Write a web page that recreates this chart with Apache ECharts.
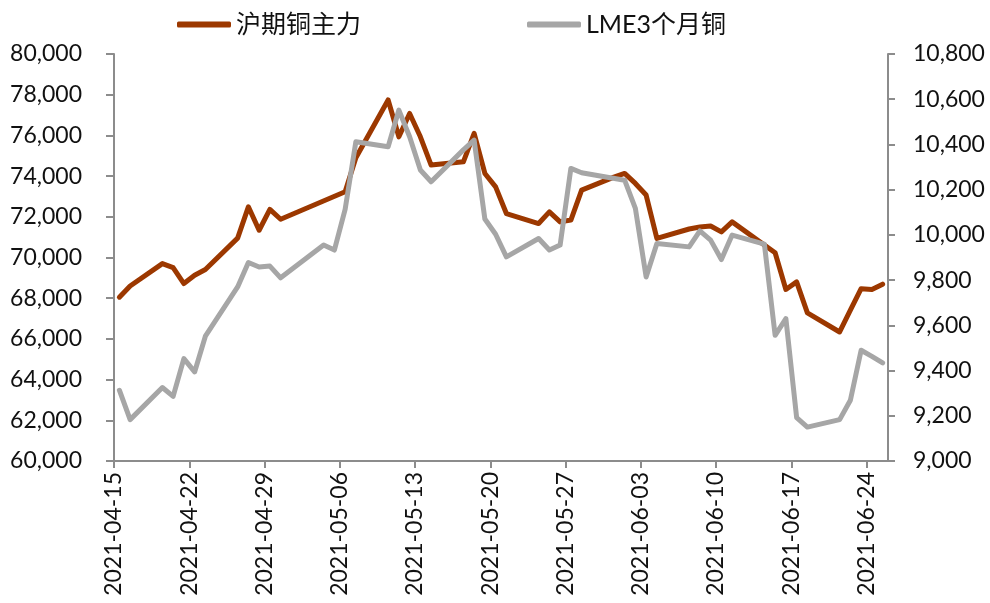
<!DOCTYPE html>
<html>
    <head>
        <meta charset="utf-8">
        <script src="https://cdn.jsdelivr.net/npm/echarts@6/dist/echarts.min.js"></script>
        <style>
            html, body { margin: 0; padding: 0; background: #fff; }
            #main { width: 990px; height: 603px; }
        </style>
    </head>
    <body>
        <div id="main"></div>
        <script>
            // SHFE copper main contract (left axis)
            var shfeDates = [
                '2021-04-15', '2021-04-16', '2021-04-19', '2021-04-20', '2021-04-21', '2021-04-22', '2021-04-23',
                '2021-04-26', '2021-04-27', '2021-04-28', '2021-04-29', '2021-04-30',
                '2021-05-06', '2021-05-07', '2021-05-10', '2021-05-11', '2021-05-12', '2021-05-13', '2021-05-14',
                '2021-05-17', '2021-05-18', '2021-05-19', '2021-05-20', '2021-05-21',
                '2021-05-24', '2021-05-25', '2021-05-26', '2021-05-27', '2021-05-28',
                '2021-05-31', '2021-06-01', '2021-06-02', '2021-06-03', '2021-06-04',
                '2021-06-07', '2021-06-08', '2021-06-09', '2021-06-10', '2021-06-11',
                '2021-06-15', '2021-06-16', '2021-06-17', '2021-06-18',
                '2021-06-21', '2021-06-22', '2021-06-23', '2021-06-24', '2021-06-25'
            ];
            var shfeValues = [
                68050, 68600, 69700, 69500, 68720, 69130, 69410,
                70950, 72490, 71340, 72360, 71880,
                73230, 74900, 77740, 75930, 77080, 75930, 74540,
                74700, 76100, 74130, 73470, 72160,
                71670, 72240, 71750, 71840, 73310,
                73950, 74130, 73640, 73070, 70940,
                71400, 71500, 71550, 71260, 71750,
                70230, 68430, 68800, 67280,
                66340, 67410, 68470, 68430, 68690
            ];

            // LME 3-month copper (right axis)
            var lmeDates = [
                '2021-04-15', '2021-04-16', '2021-04-19', '2021-04-20', '2021-04-21', '2021-04-22', '2021-04-23',
                '2021-04-26', '2021-04-27', '2021-04-28', '2021-04-29', '2021-04-30',
                '2021-05-04', '2021-05-05', '2021-05-06', '2021-05-07',
                '2021-05-10', '2021-05-11', '2021-05-12', '2021-05-13', '2021-05-14',
                '2021-05-17', '2021-05-18', '2021-05-19', '2021-05-20', '2021-05-21',
                '2021-05-24', '2021-05-25', '2021-05-26', '2021-05-27', '2021-05-28',
                '2021-06-01', '2021-06-02', '2021-06-03', '2021-06-04',
                '2021-06-07', '2021-06-08', '2021-06-09', '2021-06-10', '2021-06-11',
                '2021-06-14', '2021-06-15', '2021-06-16', '2021-06-17', '2021-06-18',
                '2021-06-21', '2021-06-22', '2021-06-23', '2021-06-24', '2021-06-25'
            ];
            var lmeValues = [
                9313, 9183, 9325, 9286, 9453, 9394, 9552,
                9770, 9878, 9858, 9862, 9810,
                9955, 9933, 10113, 10412,
                10390, 10552, 10434, 10287, 10235,
                10376, 10419, 10070, 10003, 9903,
                9984, 9933, 9955, 10294, 10275,
                10242, 10117, 9814, 9962,
                9947, 10018, 9977, 9891, 9999,
                9959, 9556, 9630, 9192, 9150,
                9183, 9269, 9490, 9463, 9434
            ];

            var seriesNames = ['沪期铜主力', 'LME3个月铜'];
            var startDate = '2021-04-15';
            var dayCount = 72;
            var DAY = 86400000;
            var FONT = 'Lato, "Noto Sans CJK SC", sans-serif';

            function dayOffset(s) {
                return (Date.parse(s) - Date.parse(startDate)) / DAY;
            }
            function dayLabel(v) {
                var d = new Date(Date.parse(startDate) + v * DAY);
                var m = d.getUTCMonth() + 1, dd = d.getUTCDate();
                return d.getUTCFullYear() + '-' + (m < 10 ? '0' : '') + m + '-' + (dd < 10 ? '0' : '') + dd;
            }
            function pairs(dates, values) {
                // points sit in the middle of each day slot
                return dates.map(function (s, i) { return [dayOffset(s) + 0.5, values[i]]; });
            }
            function commas(v) { return v.toLocaleString('en-US'); }

            var axisColor = '#8c8c8c';
            var chart = echarts.init(document.getElementById('main'));
            chart.setOption({
                animation: false,
                backgroundColor: '#fff',
                legend: {
                    left: 172,
                    top: 7,
                    itemGap: 166,
                    itemWidth: 54,
                    itemHeight: 6,
                    icon: 'roundRect',
                    textStyle: { fontFamily: FONT, fontSize: 25, color: '#111' },
                    data: seriesNames
                },
                grid: { left: 114, right: 102, top: 54, bottom: 142 },
                xAxis: {
                    type: 'value',
                    min: 0,
                    max: dayCount,
                    interval: 7,
                    splitLine: { show: false },
                    axisLine: { lineStyle: { color: axisColor, width: 2 } },
                    axisTick: { length: 7, lineStyle: { color: axisColor, width: 2 } },
                    axisLabel: {
                        rotate: 90,
                        margin: 11,
                        showMaxLabel: false,
                        fontFamily: FONT,
                        fontSize: 23,
                        color: '#111',
                        formatter: dayLabel
                    }
                },
                yAxis: [{
                    type: 'value',
                    min: 60000,
                    max: 80000,
                    interval: 2000,
                    splitLine: { show: false },
                    axisLine: { show: true, lineStyle: { color: axisColor, width: 2 } },
                    axisTick: { show: true, length: 8, lineStyle: { color: axisColor, width: 2 } },
                    axisLabel: { margin: 32, fontFamily: FONT, fontSize: 23, color: '#111', formatter: commas }
                }, {
                    type: 'value',
                    position: 'right',
                    min: 9000,
                    max: 10800,
                    interval: 200,
                    splitLine: { show: false },
                    axisLine: { show: true, lineStyle: { color: axisColor, width: 2 } },
                    axisTick: { show: true, length: 7, lineStyle: { color: axisColor, width: 2 } },
                    axisLabel: { margin: 25, fontFamily: FONT, fontSize: 23, color: '#111', formatter: commas }
                }],
                series: [{
                    name: seriesNames[0],
                    type: 'line',
                    yAxisIndex: 0,
                    symbol: 'none',
                    color: '#9c3800',
                    lineStyle: { width: 5, cap: 'round', join: 'round' },
                    data: pairs(shfeDates, shfeValues),
                    z: 2
                }, {
                    name: seriesNames[1],
                    type: 'line',
                    yAxisIndex: 1,
                    symbol: 'none',
                    color: '#a6a6a6',
                    lineStyle: { width: 5, cap: 'round', join: 'round' },
                    data: pairs(lmeDates, lmeValues),
                    z: 3
                }]
            });
        </script>
    </body>
</html>
